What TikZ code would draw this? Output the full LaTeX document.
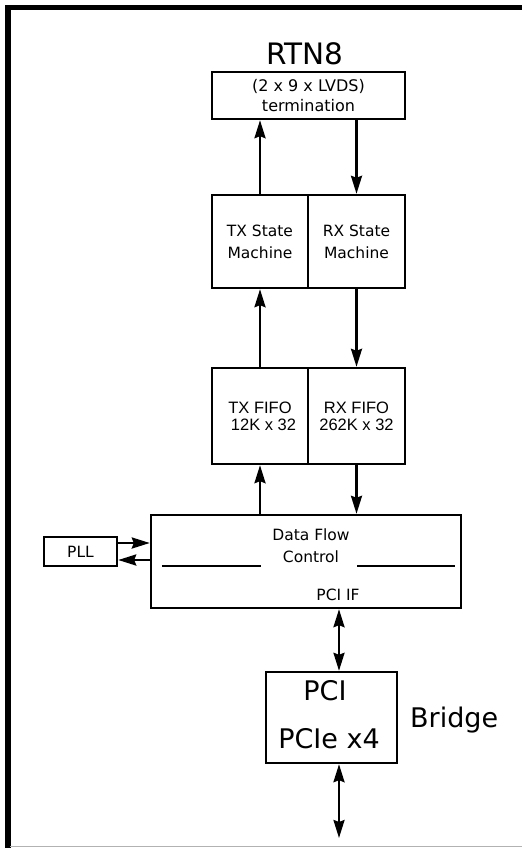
\documentclass[tikz,border=0pt]{standalone}
\usepackage{fontspec}
\setmainfont{DejaVu Sans}
\newfontfamily\arialf{Liberation Sans}
\usetikzlibrary{arrows.meta,calc}
\begin{document}
\begin{tikzpicture}[x=1pt,y=-1pt,
  box/.style={draw, line width=2.4pt, inner sep=0pt, align=center},
  sm/.style={font=\fontsize{15.5}{22}\selectfont},
  fifo/.style={font=\arialf\fontsize{16.5}{17}\selectfont},
  big/.style={font=\fontsize{27}{32}\selectfont},
  tip/.tip={Stealth[length=18pt,width=11pt,inset=2pt]},
  arr/.style={line width=2.4pt, -tip},
  dbl/.style={line width=2.4pt, tip-tip}]
\useasboundingbox (0,0) rectangle (522,848);
% frame
\draw[line width=5.5pt] (8,848) -- (8,7.5) -- (522,7.5);
\draw[gray!60, line width=1pt] (10,846.5) -- (522,846.5);
% title
\node[font=\fontsize{29.5}{34}\selectfont, inner sep=0pt] (title) at (305,54) {RTN8};
% boxes
\node[box, font=\fontsize{16}{20}\selectfont, minimum width=193pt, minimum height=47pt] (term) at (308.5,95.5) {(2 x 9 x LVDS)\\termination};
\node[box, sm, minimum width=96pt, minimum height=93pt] (txsm) at (260,241.5) {TX State\\Machine};
\node[box, sm, minimum width=97pt, minimum height=93pt] (rxsm) at (356.5,241.5) {RX State\\Machine};
\node[box, fifo, minimum width=96pt, minimum height=96pt] (txfifo) at (260,416) {TX FIFO\\\hspace*{7pt}12K x 32};
\node[box, fifo, minimum width=97pt, minimum height=96pt] (rxfifo) at (356.5,416) {RX FIFO\\262K x 32};
\node[box, minimum width=310pt, minimum height=93pt] (dfc) at (306,561.5) {};
\node[sm, align=center, inner sep=0pt] (dfct) at (311,546) {Data Flow\\Control};
\node[sm, inner sep=0pt, anchor=base] (pciif) at (338,600) {PCI IF};
\draw[line width=2.4pt] ($(dfc.west)+(12,4.5)$) coordinate (l1) -- ($(dfc.west)+(111,4.5)$) coordinate (l2);
\draw[line width=2.4pt] ($(dfc.east)+(-105,4.5)$) coordinate (r1) -- ($(dfc.east)+(-7,4.5)$) coordinate (r2);
\node[box, sm, minimum width=73pt, minimum height=29pt] (pll) at (80.5,551.5) {PLL};
\node[box, minimum width=131pt, minimum height=91pt] (pci) at (331.5,717.5) {};
\node[big, inner sep=0pt, anchor=base] (pcit) at (325,700) {PCI};
\node[big, inner sep=0pt, anchor=base] (pciet) at (329,748) {PCIe x4};
\node[big, inner sep=0pt, anchor=base west] (bridge) at (410,727) {Bridge};
% connectors
\draw[arr] (txsm.north) -- (txsm.north |- term.south);
\draw[arr] (rxsm.north |- term.south) -- (rxsm.north);
\draw[arr] (txfifo.north) -- (txfifo.north |- txsm.south);
\draw[arr] (rxsm.south) -- (rxfifo.north);
\draw[arr] (txfifo.south |- dfc.north) -- (txfifo.south);
\draw[arr] (rxfifo.south) -- (rxfifo.south |- dfc.north);
\draw[arr] ([yshift=8.5pt]pll.east) -- ([yshift=8.5pt]pll.east -| dfc.west);
\draw[arr] ([yshift=-8.5pt]pll.east -| dfc.west) -- ([yshift=-8.5pt]pll.east);
\coordinate (bus) at (339,0);
\coordinate (busend) at (339,838);
\draw[dbl] (bus |- dfc.south) -- (bus |- pci.north);
\draw[dbl] (bus |- pci.south) -- (busend);
\end{tikzpicture}
\end{document}
